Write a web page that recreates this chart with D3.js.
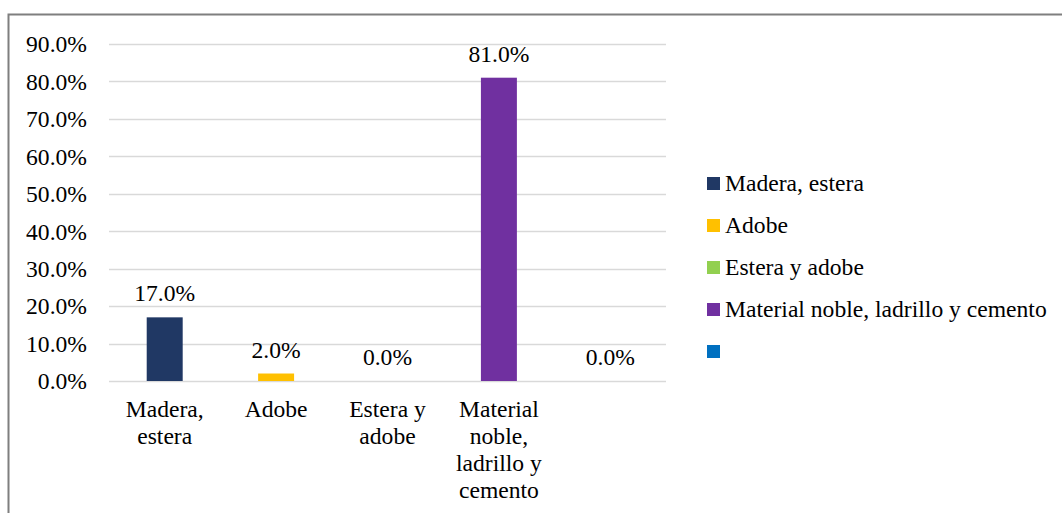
<!DOCTYPE html>
<html>
<head>
<meta charset="utf-8">
<script src="https://cdn.jsdelivr.net/npm/d3@7"></script>
<style>
  body { margin: 0; background: #fff; }
  svg text { font-family: "Liberation Serif", "Times New Roman", serif; fill: #000; }
</style>
</head>
<body>
<svg id="chart" width="1062" height="513"></svg>
<script>
// data
var categories = ["Madera, estera", "Adobe", "Estera y adobe", "Material noble, ladrillo y cemento", ""];
var values = [0.17, 0.02, 0.0, 0.81, 0.0];
var colors = ["#203864", "#FFC000", "#92D050", "#7030A0", "#0070C0"];
// x labels as Excel wraps them
var xLabelLines = [["Madera,", "estera"], ["Adobe"], ["Estera y", "adobe"], ["Material", "noble,", "ladrillo y", "cemento"], []];
var yTicks = [0, 0.1, 0.2, 0.3, 0.4, 0.5, 0.6, 0.7, 0.8, 0.9];

var svg = d3.select("#chart");
var fs = 23.6;

// outer frame, right and bottom run off the page
svg.append("rect")
  .attr("x", 8.5).attr("y", 14.5)
  .attr("width", 1080).attr("height", 520)
  .attr("fill", "none").attr("stroke", "#7f7f7f").attr("stroke-width", 2);

var x = d3.scaleBand().domain(d3.range(categories.length)).range([109, 666]).paddingInner(0.677).paddingOuter(0.3385);
var y = d3.scaleLinear().domain([0, 0.9]).range([381, 44]);

// gridlines
svg.append("g").selectAll("line").data(yTicks).enter().append("line")
  .attr("x1", 109).attr("x2", 666)
  .attr("y1", function(d){ return Math.round(y(d)) + 0.5; })
  .attr("y2", function(d){ return Math.round(y(d)) + 0.5; })
  .attr("stroke", "#d9d9d9").attr("stroke-width", 1.5);

// y tick labels
var yAxis = d3.axisLeft(y).tickValues(yTicks).tickFormat(d3.format(".1%")).tickSize(0).tickPadding(0);
var ya = svg.append("g").attr("transform", "translate(87,0)").call(yAxis);
ya.select(".domain").remove();
ya.selectAll("text").attr("font-size", fs).attr("font-family", "Liberation Serif").attr("fill", "#000").attr("dy", "0.33em");

// bars
svg.append("g").selectAll("rect").data(values).enter().append("rect")
  .attr("x", function(d, i){ return x(i); })
  .attr("y", function(d){ return y(d); })
  .attr("width", x.bandwidth())
  .attr("height", function(d){ return y(0) - y(d); })
  .attr("fill", function(d, i){ return colors[i]; });

// value labels
svg.append("g").selectAll("text").data(values).enter().append("text")
  .attr("x", function(d, i){ return x(i) + x.bandwidth() / 2; })
  .attr("y", function(d){ return y(d) - 16; })
  .attr("text-anchor", "middle")
  .attr("font-size", fs)
  .text(function(d){ return d3.format(".1%")(d); });

// category labels
var xl = svg.append("g").selectAll("text").data(xLabelLines).enter().append("text")
  .attr("text-anchor", "middle")
  .attr("font-size", fs)
  .attr("x", function(d, i){ return x(i) + x.bandwidth() / 2; })
  .attr("y", 417);
xl.each(function(lines, i){
  var t = d3.select(this);
  lines.forEach(function(s, k){
    t.append("tspan").attr("x", x(i) + x.bandwidth() / 2).attr("dy", k == 0 ? 0 : 27).text(s);
  });
});

// legend
var lg = svg.append("g").selectAll("g").data(categories).enter().append("g")
  .attr("transform", function(d, i){ return "translate(707," + (177 + i * 42) + ")"; });
lg.append("rect").attr("width", 13).attr("height", 13).attr("fill", function(d, i){ return colors[i]; });
lg.append("text").attr("x", 18).attr("y", 14).attr("font-size", fs).text(function(d){ return d; });
</script>
</body>
</html>
